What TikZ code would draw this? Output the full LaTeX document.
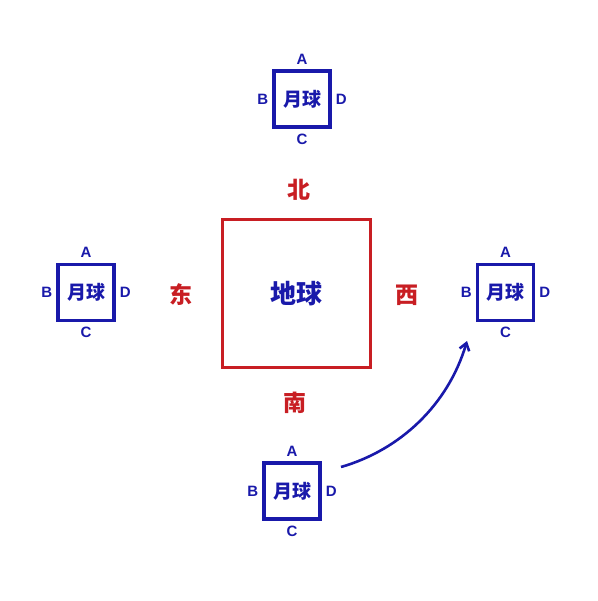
\documentclass[tikz,border=0pt]{standalone}
\usepackage{fontspec}
\setmainfont{Liberation Sans}
\newfontfamily\cjk{Noto Sans CJK SC}
\usetikzlibrary{positioning,arrows.meta}
\definecolor{moonblue}{RGB}{25,25,170}
\definecolor{earthred}{RGB}{200,30,35}
\tikzset{
  moon/.style={draw=moonblue, line width=3.4pt, minimum size=56pt, inner sep=0pt,
    text=moonblue, font=\cjk\bfseries\fontsize{19}{19}\selectfont},
  earth/.style={draw=earthred, line width=3.2pt, minimum size=148pt, inner sep=0pt,
    text=moonblue, font=\cjk\bfseries\fontsize{26}{26}\selectfont},
  side/.style={text=moonblue, inner sep=0pt, font=\bfseries\fontsize{15}{15}\selectfont},
  dir/.style={text=earthred, inner sep=0pt, font=\cjk\bfseries\fontsize{23}{23}\selectfont},
}
\begin{document}
\begin{tikzpicture}[x=1pt,y=-1pt]
  \useasboundingbox (0,0) rectangle (597,601);
  % earth and directions
  \node[earth] (earth) at (296.5,293.5) {地球};
  \node[dir] (north) at (299,190) {北};
  \node[dir] (south) at (295,403) {南};
  \node[dir] (east) at (181,295) {东};
  \node[dir] (west) at (407,295) {西};
  % four moons
  \foreach \name/\x/\y in {mtop/302/99, mleft/86/292.5, mright/505.5/292.5, mbottom/292/491}{
    \node[moon] (\name) at (\x,\y) {月球};
    \node[side, above=5pt of \name.north] (\name A) {A};
    \node[side, left=4pt of \name.west] (\name B) {B};
    \node[side, below=5pt of \name.south] (\name C) {C};
    \node[side, right=4pt of \name.east] (\name D) {D};
  }
  % motion of the moon
  \coordinate (start) at (341,467);
  \coordinate (end) at (467,341);
  \draw[moonblue, line width=2.6pt, -{Straight Barb[length=7pt,width=10pt]}]
    (start) .. controls (400,450) and (448,405) .. (end);
\end{tikzpicture}
\end{document}
